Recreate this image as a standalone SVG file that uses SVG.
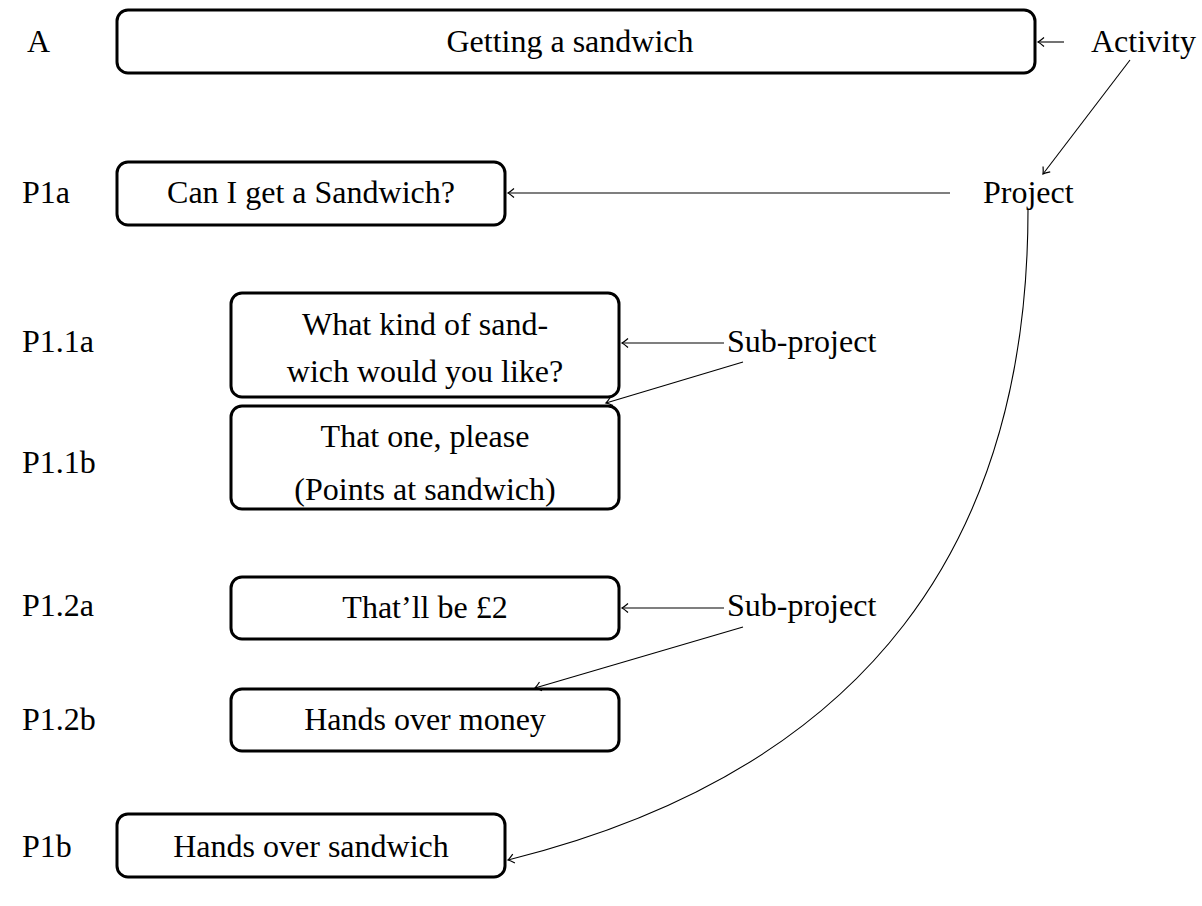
<svg xmlns="http://www.w3.org/2000/svg" width="1202" height="906" viewBox="0 0 1202 906">
<defs>
<marker id="arr" viewBox="-8 -6 10 12" markerWidth="10" markerHeight="12" refX="0" refY="0" orient="auto" markerUnits="userSpaceOnUse">
<path d="M-6,-4.5 Q-2,-1 0,0 Q-2,1 -6,4.5" fill="none" stroke="#000" stroke-width="1.2"/>
</marker>
</defs>
<style>
text{font-family:"Liberation Serif","Times New Roman",serif;font-size:32px;fill:#000}
.c{text-anchor:middle}
.box{fill:#fff;stroke:#000;stroke-width:3}
.e{fill:none;stroke:#000;stroke-width:1.1;marker-end:url(#arr)}
</style>
<rect width="1202" height="906" fill="#fff"/>
<g id="labels">
<text x="27" y="52">A</text>
<text x="22" y="203">P1a</text>
<text x="22" y="352">P1.1a</text>
<text x="22" y="473">P1.1b</text>
<text x="22" y="616">P1.2a</text>
<text x="22" y="730">P1.2b</text>
<text x="22" y="857">P1b</text>
</g>
<g id="nodeA"><rect class="box" x="117" y="10" width="918" height="63" rx="11"/><text class="c" x="570" y="52">Getting a sandwich</text></g>
<g id="nodeP1a"><rect class="box" x="117" y="162" width="388" height="63" rx="11"/><text class="c" x="311" y="203">Can I get a Sandwich?</text></g>
<g id="nodeP11a"><rect class="box" x="231" y="293" width="388" height="104" rx="11"/><text class="c" x="425" y="335">What kind of sand-</text><text class="c" x="425" y="382">wich would you like?</text></g>
<g id="nodeP11b"><rect class="box" x="231" y="406" width="388" height="103" rx="11"/><text class="c" x="425" y="447">That one, please</text><text class="c" x="425" y="500">(Points at sandwich)</text></g>
<g id="nodeP12a"><rect class="box" x="231" y="577" width="388" height="62" rx="11"/><text class="c" x="425" y="618">That’ll be £2</text></g>
<g id="nodeP12b"><rect class="box" x="231" y="689" width="388" height="62" rx="11"/><text class="c" x="425" y="730">Hands over money</text></g>
<g id="nodeP1b"><rect class="box" x="117" y="814" width="388" height="63" rx="11"/><text class="c" x="311" y="857">Hands over sandwich</text></g>
<g id="nodeActivity"><text x="1091" y="52">Activity</text></g>
<g id="nodeProject"><text x="983" y="203">Project</text></g>
<g id="nodeSub1"><text x="727" y="352">Sub-project</text></g>
<g id="nodeSub2"><text x="727" y="616">Sub-project</text></g>
<g id="connectors">
<path class="e" d="M1064,42 L1038,42"/>
<path class="e" d="M1130,60 L1043,174"/>
<path class="e" d="M950,193 L508,193"/>
<path class="e" d="M724,343 L622,343"/>
<path class="e" d="M743,362 L606,403"/>
<path class="e" d="M724,608 L622,608"/>
<path class="e" d="M743,627 L535,688"/>
<path class="e" d="M1028,210 C1028,540 870,770 508,860"/>
</g>
</svg>
